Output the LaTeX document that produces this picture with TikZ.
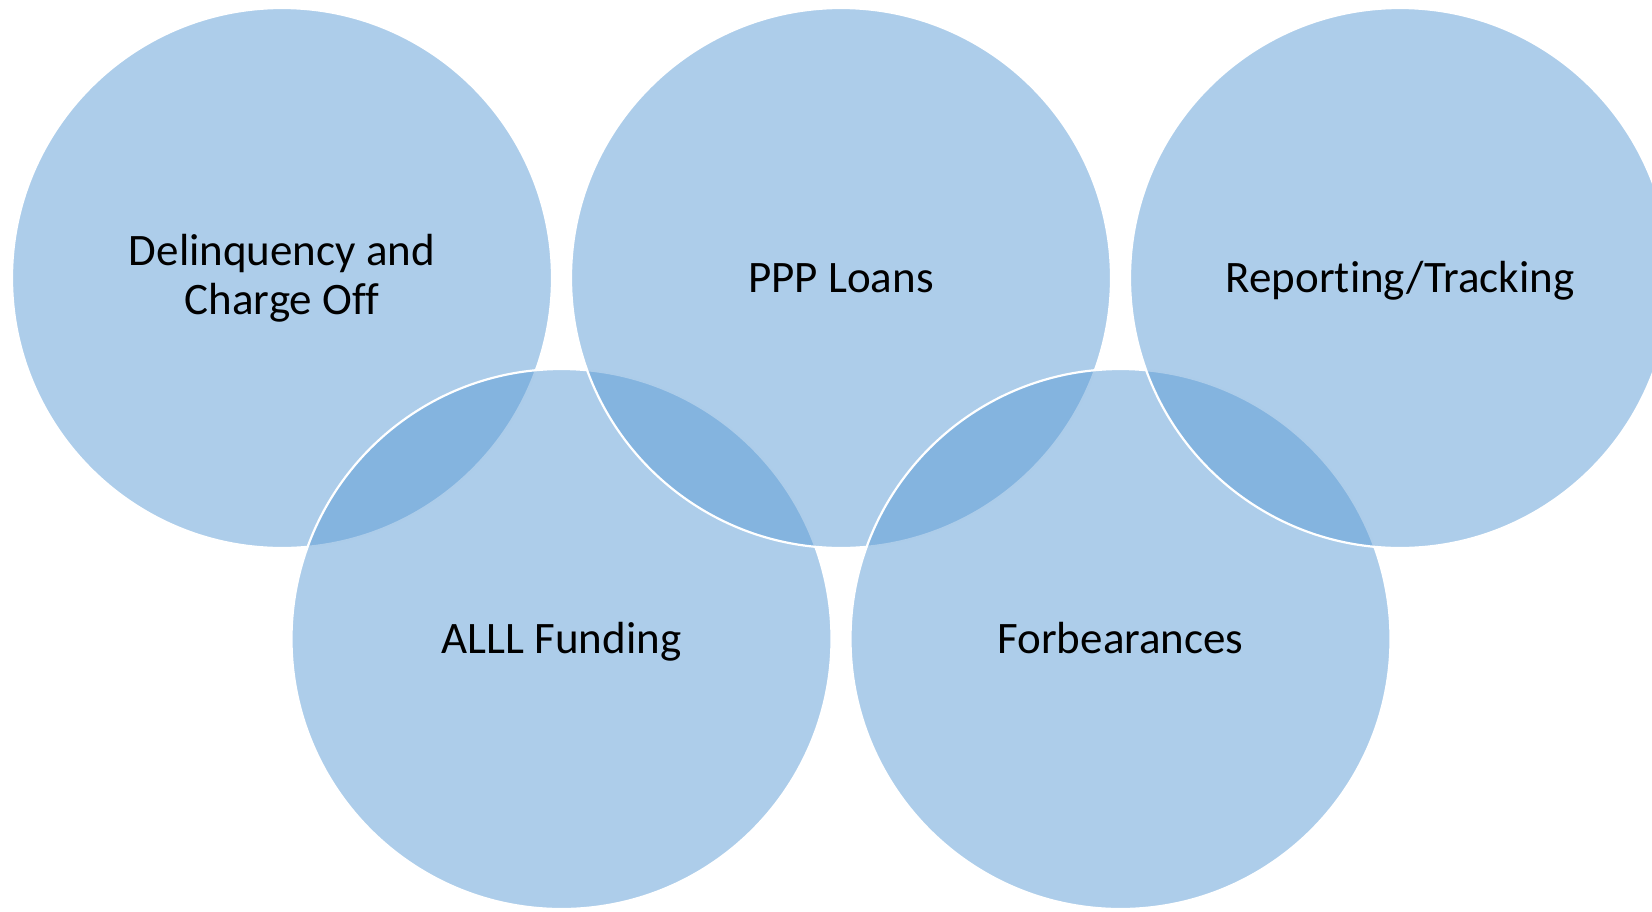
\documentclass[tikz,border=0pt]{standalone}
\usepackage{fontspec}
\setmainfont{Carlito}[Ligatures={NoCommon}]
\definecolor{ringblue}{HTML}{5B9BD5}
\begin{document}
\begin{tikzpicture}[x=0.5pt,y=-0.5pt,
  ring/.style={circle, inner sep=0pt, outer sep=0pt, minimum size=270pt,
    fill=ringblue, fill opacity=0.5, text opacity=1,
    draw=white, line width=1.1pt,
    text=black, align=center, font=\fontsize{22.5}{24.5}\selectfont},
  oneline/.style={text height=14.4pt, text depth=0pt}]
  \useasboundingbox (0,0) rectangle (1652,911);
  \clip (0,0) rectangle (1652,911);
  % interlocking rings, drawn alternately top / bottom
  \node[ring] (delinq) at (282,278) {Delinquency and\\Charge Off};
  \node[ring, oneline] (alll)   at (561.5,639) {ALLL Funding};
  \node[ring, oneline] (ppp)    at (841,278) {PPP Loans};
  \node[ring, oneline] (forb)   at (1120.5,639) {Forbearances};
  \node[ring, oneline] (report) at (1400,278) {Reporting/Tracking};
\end{tikzpicture}
\end{document}
